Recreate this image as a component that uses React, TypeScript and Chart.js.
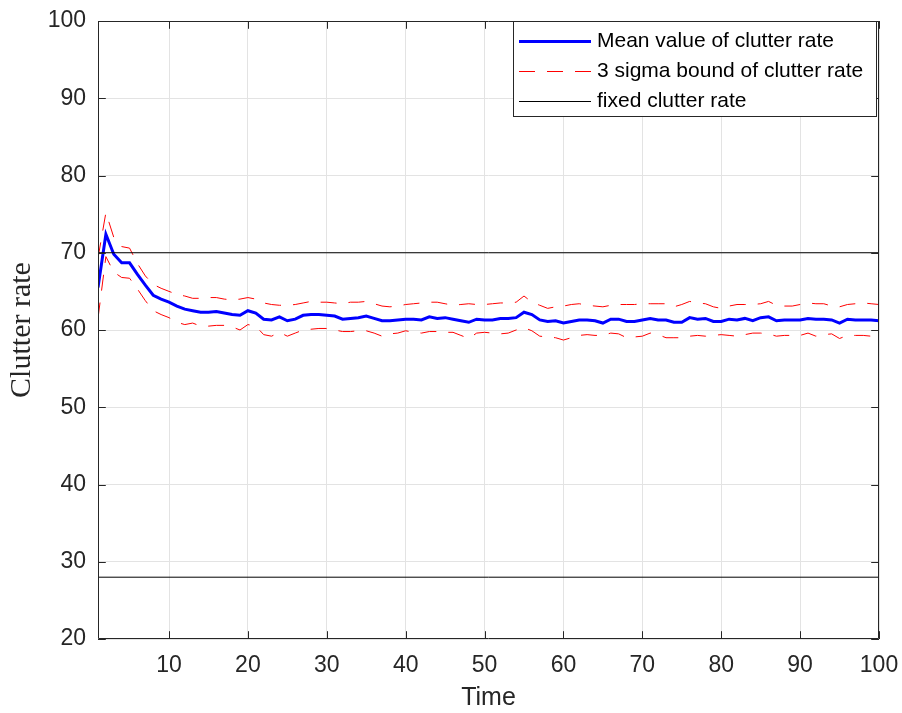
import React, { useEffect, useRef } from "react";
import { Chart, registerables } from "chart.js";

Chart.register(...registerables);

// ---- data ----
const time: number[] = Array.from({ length: 100 }, (_, i) => i + 1);

const meanRate: number[] = [
  65.5, 72.4, 69.8, 68.7, 68.7, 67.2, 65.8, 64.5, 64.0, 63.6,
  63.1, 62.7, 62.5, 62.3, 62.3, 62.4, 62.2, 62.0, 61.9, 62.5,
  62.2, 61.4, 61.3, 61.7, 61.2, 61.4, 61.9, 62.0, 62.0, 61.9,
  61.8, 61.4, 61.5, 61.6, 61.8, 61.5, 61.2, 61.2, 61.3, 61.4,
  61.4, 61.3, 61.7, 61.5, 61.6, 61.4, 61.2, 61.0, 61.4, 61.3,
  61.3, 61.5, 61.5, 61.6, 62.3, 62.0, 61.3, 61.1, 61.2, 60.9,
  61.1, 61.3, 61.3, 61.2, 60.9, 61.4, 61.4, 61.1, 61.1, 61.3,
  61.5, 61.3, 61.3, 61.0, 61.0, 61.6, 61.4, 61.5, 61.1, 61.1,
  61.4, 61.3, 61.5, 61.2, 61.6, 61.7, 61.2, 61.3, 61.3, 61.3,
  61.5, 61.4, 61.4, 61.3, 60.9, 61.4, 61.3, 61.3, 61.3, 61.2,
];

const upperBound: number[] = [
  69.3, 75.2, 72.0, 70.8, 70.6, 68.6, 67.0, 65.9, 65.4, 65.0,
  64.6, 64.4, 64.1, 64.1, 64.2, 64.2, 64.0, 63.9, 64.0, 64.2,
  64.0, 63.5, 63.3, 63.2, 63.2, 63.3, 63.5, 63.7, 63.6, 63.6,
  63.5, 63.4, 63.6, 63.6, 63.7, 63.4, 63.1, 63.0, 63.1, 63.3,
  63.4, 63.5, 63.6, 63.6, 63.4, 63.2, 63.3, 63.4, 63.3, 63.3,
  63.4, 63.5, 63.5, 63.6, 64.4, 63.6, 63.2, 62.8, 63.0, 63.1,
  63.3, 63.4, 63.2, 63.1, 63.0, 63.2, 63.3, 63.3, 63.3, 63.4,
  63.4, 63.4, 63.4, 63.0, 63.3, 63.7, 63.5, 63.4, 63.0, 62.8,
  63.1, 63.3, 63.3, 63.3, 63.4, 63.7, 63.2, 63.1, 63.1, 63.3,
  63.5, 63.4, 63.4, 63.1, 63.0, 63.3, 63.4, 63.5, 63.4, 63.3,
];

const lowerBound: number[] = [
  61.5, 69.5, 67.5, 66.8, 66.7, 65.3, 63.8, 62.5, 62.0, 61.6,
  61.0, 60.7, 60.9, 60.5, 60.5, 60.6, 60.6, 60.4, 60.0, 60.7,
  60.5, 59.4, 59.2, 59.7, 59.2, 59.6, 60.0, 60.1, 60.2, 60.2,
  60.0, 59.8, 59.8, 59.9, 59.9, 59.6, 59.2, 59.5, 59.6, 59.9,
  59.7, 59.6, 59.8, 59.8, 59.7, 59.7, 59.3, 58.9, 59.6, 59.7,
  59.6, 59.5, 59.6, 60.0, 60.3, 59.9, 59.2, 59.1, 59.0, 58.7,
  59.0, 59.3, 59.4, 59.3, 59.3, 59.6, 59.5, 59.0, 59.1, 59.2,
  59.6, 59.4, 59.0, 59.0, 59.0, 59.2, 59.3, 59.2, 59.3, 59.4,
  59.3, 59.2, 59.4, 59.6, 59.6, 59.5, 59.2, 59.3, 59.3, 59.3,
  59.6, 59.2, 59.4, 59.5, 58.9, 59.3, 59.3, 59.3, 59.2, 59.2,
];

const fixedRates: number[] = [70, 28];

const xTicks: number[] = [10, 20, 30, 40, 50, 60, 70, 80, 90, 100];
const yTicks: number[] = [20, 30, 40, 50, 60, 70, 80, 90, 100];

const legendLabels: string[] = [
  "Mean value of clutter rate",
  "3 sigma bound of clutter rate",
  "fixed clutter rate",
];

const AXIS_COLOR = "#262626";
const SANS = "'Liberation Sans', Arial, Helvetica, sans-serif";

const framePlugin = {
  id: "matlabFrame",
  afterDatasetsDraw(chart: any) {
    const { ctx, chartArea } = chart;
    const { left, right, top, bottom } = chartArea;
    const xs = chart.scales.x;
    const ys = chart.scales.y;
    const tl = 7.8;
    ctx.save();
    ctx.strokeStyle = AXIS_COLOR;
    ctx.lineWidth = 1;
    ctx.setLineDash([]);
    ctx.beginPath();
    ctx.rect(Math.round(left) + 0.5, Math.round(top) + 0.5, Math.round(right - left) - 1, Math.round(bottom - top) - 1);
    ctx.stroke();
    ctx.beginPath();
    xTicks.forEach((v) => {
      const px = Math.round(xs.getPixelForValue(v)) + 0.5;
      ctx.moveTo(px, bottom);
      ctx.lineTo(px, bottom - tl);
      ctx.moveTo(px, top);
      ctx.lineTo(px, top + tl);
    });
    yTicks.forEach((v) => {
      const py = Math.round(ys.getPixelForValue(v)) + 0.5;
      ctx.moveTo(left, py);
      ctx.lineTo(left + tl, py);
      ctx.moveTo(right, py);
      ctx.lineTo(right - tl, py);
    });
    ctx.stroke();
    ctx.restore();
  },
  afterDraw(chart: any) {
    const { ctx, chartArea } = chart;
    const items = chart.data.datasets.filter((d: any) => d.inLegend);
    const boxRight = chartArea.right - 2.5;
    const boxLeft = 513.5;
    const boxTop = chartArea.top + 0.5;
    const rowH = 30;
    const boxH = 95;
    ctx.save();
    ctx.fillStyle = "#ffffff";
    ctx.fillRect(boxLeft, boxTop, boxRight - boxLeft, boxH);
    ctx.strokeStyle = AXIS_COLOR;
    ctx.lineWidth = 1;
    ctx.setLineDash([]);
    ctx.strokeRect(boxLeft, boxTop, boxRight - boxLeft, boxH);
    ctx.font = `21px ${SANS}`;
    ctx.textBaseline = "middle";
    ctx.textAlign = "left";
    items.forEach((d: any, i: number) => {
      const cy = boxTop + 19 + i * rowH;
      ctx.beginPath();
      ctx.strokeStyle = d.borderColor;
      ctx.lineWidth = d.borderWidth;
      ctx.setLineDash(d.borderDash || []);
      ctx.moveTo(519, Math.round(cy) + (d.borderWidth % 2 ? 0.5 : 0));
      ctx.lineTo(591, Math.round(cy) + (d.borderWidth % 2 ? 0.5 : 0));
      ctx.stroke();
      ctx.setLineDash([]);
      ctx.fillStyle = "#000000";
      ctx.fillText(d.label, 597, cy + 1);
    });
    ctx.restore();
  },
};

export default function App() {
  const canvasRef = useRef<HTMLCanvasElement | null>(null);

  useEffect(() => {
    if (!canvasRef.current) return;
    const pts = (arr: number[]) => time.map((t, i) => ({ x: t, y: arr[i] }));
    const tMin = time[0];
    const tMax = time[time.length - 1];
    const dash = [16, 12];
    const chart = new Chart(canvasRef.current, {
      type: "line",
      data: {
        datasets: [
          {
            label: legendLabels[2],
            inLegend: false,
            data: [{ x: tMin, y: fixedRates[1] }, { x: tMax, y: fixedRates[1] }],
            borderColor: "#000000",
            borderWidth: 1,
            pointRadius: 0,
          },
          {
            label: legendLabels[2],
            inLegend: false,
            data: [{ x: tMin, y: fixedRates[0] }, { x: tMax, y: fixedRates[0] }],
            borderColor: "#000000",
            borderWidth: 1,
            pointRadius: 0,
          },
          {
            label: legendLabels[1],
            inLegend: false,
            data: pts(lowerBound),
            borderColor: "#ff0000",
            borderWidth: 1,
            borderDash: dash,
            pointRadius: 0,
          },
          {
            label: legendLabels[1],
            inLegend: false,
            data: pts(upperBound),
            borderColor: "#ff0000",
            borderWidth: 1,
            borderDash: dash,
            pointRadius: 0,
          },
          {
            label: legendLabels[0],
            inLegend: false,
            data: pts(meanRate),
            borderColor: "#0000ff",
            borderWidth: 3,
            pointRadius: 0,
          },
          // legend-only entries (ordered as in the legend)
          { label: legendLabels[0], inLegend: true, data: [], borderColor: "#0000ff", borderWidth: 3 },
          { label: legendLabels[1], inLegend: true, data: [], borderColor: "#ff0000", borderWidth: 1, borderDash: dash },
          { label: legendLabels[2], inLegend: true, data: [], borderColor: "#000000", borderWidth: 1 },
        ] as any,
      },
      options: {
        animation: false,
        responsive: false,
        maintainAspectRatio: false,
        events: [],
        layout: { padding: { left: 0, top: 21, right: 23, bottom: 0 } },
        plugins: {
          legend: { display: false },
          tooltip: { enabled: false },
        },
        elements: { line: { tension: 0 } },
        scales: {
          x: {
            type: "linear",
            min: tMin,
            max: tMax,
            afterBuildTicks: (scale: any) => {
              scale.ticks = xTicks.map((v) => ({ value: v }));
            },
            afterFit: (scale: any) => {
              scale.height = 74;
              scale.paddingLeft = 0;
              scale.paddingRight = 0;
              scale.paddingTop = 0;
              scale.paddingBottom = 0;
            },
            grid: { color: "#e3e3e3", drawTicks: false, lineWidth: 1 },
            border: { display: false },
            ticks: {
              font: { family: SANS, size: 23 },
              color: AXIS_COLOR,
              padding: 13,
              maxRotation: 0,
              autoSkip: false,
            },
            title: {
              display: true,
              text: "Time",
              font: { family: SANS, size: 25 },
              color: AXIS_COLOR,
              padding: { top: 0, bottom: 0 },
            },
          },
          y: {
            min: 20,
            max: 100,
            afterBuildTicks: (scale: any) => {
              scale.ticks = yTicks.map((v) => ({ value: v }));
            },
            afterFit: (scale: any) => {
              scale.width = 98;
              scale.paddingLeft = 0;
              scale.paddingRight = 0;
              scale.paddingTop = 0;
              scale.paddingBottom = 0;
            },
            grid: { color: "#e3e3e3", drawTicks: false, lineWidth: 1 },
            border: { display: false },
            ticks: {
              font: { family: SANS, size: 23 },
              color: AXIS_COLOR,
              padding: 12,
              autoSkip: false,
            },
            title: {
              display: true,
              text: "Clutter rate",
              font: { family: "'Liberation Serif', 'Times New Roman', serif", size: 30 },
              color: AXIS_COLOR,
              padding: { top: 4, bottom: 0 },
            },
          },
        },
      },
      plugins: [framePlugin],
    } as any);
    return () => chart.destroy();
  }, []);

  return (
    <div style={{ position: "fixed", left: 0, top: 0, width: 902, height: 713, background: "#ffffff" }}>
      <canvas ref={canvasRef} width={902} height={713} style={{ width: 902, height: 713, display: "block" }} />
    </div>
  );
}
